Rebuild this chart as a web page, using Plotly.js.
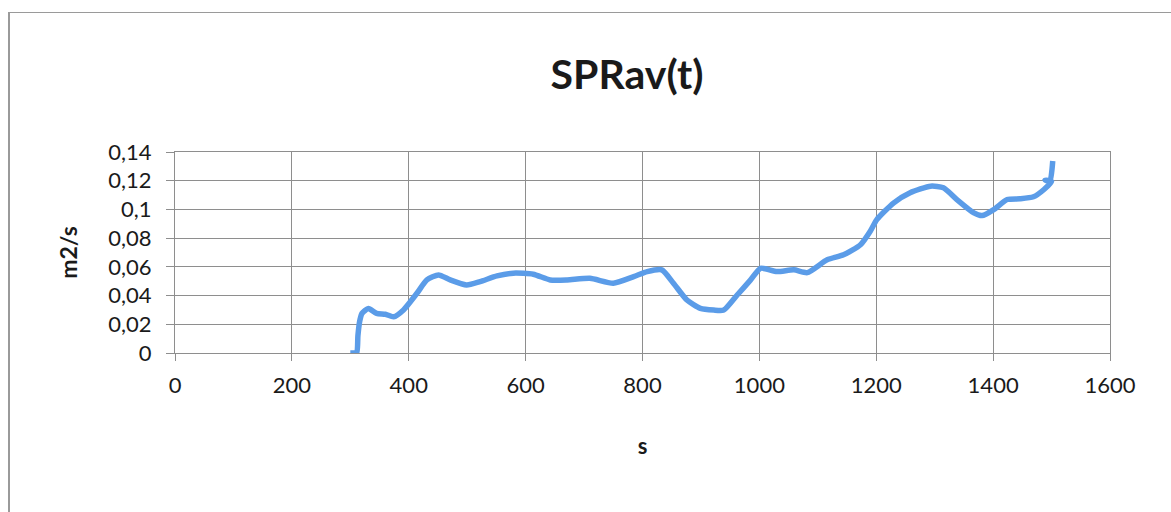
<!DOCTYPE html>
<html>
<head>
<meta charset="utf-8">
<script src="https://cdn.plot.ly/plotly-3.0.1.min.js"></script>
<style>
  html, body { margin: 0; padding: 0; background: #fff; }
  #chart { width: 1171px; height: 512px; }
  #frame { position: absolute; left: 8px; top: 12px; width: 1180px; height: 520px;
           border-top: 1px solid #9a9a9a; border-left: 2px solid #9a9a9a; pointer-events: none; }
</style>
</head>
<body>
<div id="chart"></div>
<div id="frame"></div>
<script>
// time (s)
var timeS = [300, 306, 311, 313, 316, 320, 331, 345, 360, 374, 391, 414, 431, 451, 471, 499, 522, 551, 579, 613, 642, 671, 710, 750, 785, 808, 833, 853, 876, 899, 922, 939, 962, 985, 1002, 1030, 1059, 1082, 1116, 1144, 1173, 1190, 1201, 1230, 1258, 1293, 1315, 1338, 1367, 1381, 1401, 1424, 1446, 1469, 1487, 1500, 1489, 1497, 1502];
// SPRav (m2/s)
var sprav = [0, 0, 0, 0.012, 0.022, 0.0276, 0.031, 0.0276, 0.027, 0.0252, 0.030, 0.0416, 0.0509, 0.0544, 0.0509, 0.0474, 0.0497, 0.0537, 0.0556, 0.0549, 0.0509, 0.0509, 0.052, 0.0486, 0.0532, 0.0567, 0.0579, 0.0486, 0.0369, 0.0311, 0.0299, 0.0299, 0.0404, 0.0509, 0.059, 0.0567, 0.0579, 0.056, 0.0649, 0.0684, 0.0754, 0.085, 0.0929, 0.1046, 0.1116, 0.1162, 0.1151, 0.1069, 0.0976, 0.0957, 0.0999, 0.1069, 0.1074, 0.1088, 0.1139, 0.1195, 0.1205, 0.1195, 0.1337];
var chartTitle = "SPRav(t)";
var xTitle = "s";
var yTitle = "m2/s";

var font = "Lato, 'Open Sans', sans-serif";
var textColor = "#1a1a1a";
var gridColor = "#8e8e8e";

var trace = {
  x: timeS, y: sprav, type: "scatter", mode: "lines",
  line: { color: "#5b9ce8", width: 5.5, shape: "spline", smoothing: 0.6 },
  hoverinfo: "skip"
};

var layout = {
  width: 1171, height: 512,
  margin: { l: 175, r: 61, t: 152, b: 159 },
  paper_bgcolor: "#fff", plot_bgcolor: "#fff",
  separators: ", ",
  showlegend: false,
  font: { family: font, color: textColor, size: 22 },
  title: { text: "<b>" + chartTitle + "</b>", font: { family: font, size: 41, color: textColor },
           x: 627 / 1171, xanchor: "center", xref: "container",
           y: 1 - 75 / 512, yanchor: "middle", yref: "container" },
  xaxis: {
    range: [0, 1600], dtick: 200, tick0: 0,
    showgrid: true, gridcolor: gridColor, gridwidth: 1,
    showline: true, linecolor: gridColor, linewidth: 1, mirror: true,
    ticks: "outside", ticklen: 7, tickcolor: gridColor,
    ticklabelstandoff: 6,
    zeroline: false,
    tickfont: { family: font, size: 22, color: textColor },
    title: { text: "<b>" + xTitle + "</b>", font: { family: font, size: 22, color: textColor }, standoff: 41 }
  },
  yaxis: {
    range: [0, 0.14], dtick: 0.02, tick0: 0,
    showgrid: true, gridcolor: gridColor, gridwidth: 1,
    showline: true, linecolor: gridColor, linewidth: 1, mirror: true,
    ticks: "outside", ticklen: 8, tickcolor: gridColor,
    ticklabelstandoff: 10,
    zeroline: false,
    tickfont: { family: font, size: 22, color: textColor },
    title: { text: "<b>" + yTitle + "</b>", font: { family: font, size: 23, color: textColor }, standoff: 24 }
  }
};

Plotly.newPlot("chart", [trace], layout, { displayModeBar: false, staticPlot: true });
</script>
</body>
</html>
